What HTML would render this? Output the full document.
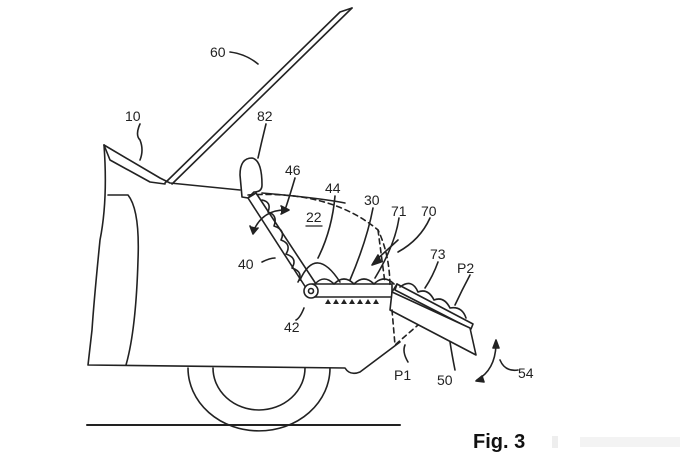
<!DOCTYPE html>
<html><head><style>
body{margin:0;background:#fff;}
svg{display:block;}
text{font-family:"Liberation Sans",sans-serif;font-size:14px;fill:#222;}
</style></head><body>
<svg width="692" height="467" viewBox="0 0 692 467" xmlns="http://www.w3.org/2000/svg">
<g fill="none" stroke="#222" stroke-width="1.6" stroke-linecap="round" stroke-linejoin="round">
<!-- hood -->
<path d="M165 183 L340 12 L352 8"/>
<path d="M172 184 L352 8"/>
<path d="M230 52 Q246 54 258 64"/>
<!-- car body -->
<path d="M104 145 L160 178 L170 183 L240 190"/>
<path d="M104 145 L110 160 L150 182 L165 184"/>
<path d="M104 145 Q108 200 100 240 Q94 300 92 330 L88 365 L345 368 Q350 376 360 372 L400 342"/>
<path d="M108 195 L128 195 Q140 210 138 260 Q136 330 126 365"/>
<path d="M262 193 Q320 198 345 203"/>
<!-- wheel -->
<path d="M188 368 A70 62 0 0 0 330 368"/>
<path d="M213 368 A46 42 0 0 0 305 368"/>
<path d="M87 425 L400 425" stroke-width="2"/>
<!-- headrest -->
<path d="M242 197 L240 175 Q240 158 252 158 Q262 160 262 185 Q262 192 254 192 L248 198 Z" fill="#fff"/>
<!-- seat back -->
<path d="M248 198 L256 193 L318 287 L308 291 Z" fill="#fff"/>
<!-- bumps on back -->
<path d="M262 200 Q272 202 268 212 Q278 215 274 226 Q286 230 281 240 Q292 244 286 254 Q298 258 292 268 Q304 272 298 282"/>
<!-- seat cushion big bump -->
<path d="M300 280 Q316 245 340 282"/>
<!-- seat bar -->
<rect x="312" y="284" width="80" height="13" fill="#fff"/>
<path d="M315 284 Q324 274 334 284 Q344 274 354 284 Q364 274 374 284 Q384 274 394 284"/>
<circle cx="311" cy="291" r="7" fill="#fff"/>
<circle cx="311" cy="291" r="2.5"/>
<!-- feet -->
<g fill="#222" stroke="none">
<polygon points="325,304 328,299 331,304"/><polygon points="333,304 336,299 339,304"/><polygon points="341,304 344,299 347,304"/><polygon points="349,304 352,299 355,304"/><polygon points="357,304 360,299 363,304"/><polygon points="365,304 368,299 371,304"/><polygon points="373,304 376,299 379,304"/>
</g>
<!-- flap 50 -->
<path d="M397 284 L473 324 L471 329 L395 290 Z" fill="#fff"/>
<path d="M392 292 L470 328 L476 355 L390 310 Z" fill="#fff"/>
<path d="M397 284 L392 292"/>
<path d="M400 287 Q412 278 418 292 Q428 288 434 300 Q444 296 450 308 Q462 306 466 318"/>
<!-- dashed -->
<g stroke-dasharray="5,4">
<path d="M248 195 Q330 190 378 230 Q390 255 390 288"/>
<path d="M378 230 L385 283"/>
<path d="M392 310 L395 345 L418 325"/>
</g>
<!-- arrows -->
<path d="M253 232 Q262 210 285 210"/>
<path d="M281 206 L289 210 L281 214" fill="#222"/>
<path d="M250 226 L253 234 L258 228" fill="#222"/>
<path d="M374 262 L398 240"/>
<path d="M372 265 L378 255 L381 262 Z" fill="#222"/>
<path d="M477 380 Q495 370 496 345"/>
<path d="M493 348 L496 340 L499 348 Z" fill="#222"/>
<path d="M482 376 L476 381 L484 382 Z" fill="#222"/>
<!-- leaders -->
<path d="M140 124 Q135 135 140 140 Q144 150 140 160"/>
<path d="M266 124 Q262 140 258 158"/>
<path d="M295 178 Q290 195 285 210"/>
<path d="M335 196 Q332 230 318 258"/>
<path d="M373 208 Q367 240 350 280"/>
<path d="M399 218 Q395 245 375 278"/>
<path d="M430 218 Q420 240 398 252"/>
<path d="M262 262 Q270 258 275 258"/>
<path d="M304 308 Q300 318 296 320"/>
<path d="M438 262 Q433 276 425 288"/>
<path d="M470 275 Q462 290 455 305"/>
<path d="M408 362 Q402 352 405 345"/>
<path d="M455 370 Q452 355 450 342"/>
<path d="M518 370 Q505 372 500 360"/>
<path d="M306 226 L322 226" stroke-width="1.3"/>
</g>
<text x="210" y="57">60</text>
<text x="125" y="121">10</text>
<text x="257" y="121">82</text>
<text x="285" y="175">46</text>
<text x="325" y="193">44</text>
<text x="364" y="205">30</text>
<text x="391" y="216">71</text>
<text x="421" y="216">70</text>
<text x="306" y="222">22</text>
<text x="238" y="269">40</text>
<text x="284" y="332">42</text>
<text x="430" y="259">73</text>
<text x="457" y="273">P2</text>
<text x="394" y="380">P1</text>
<text x="437" y="385">50</text>
<text x="518" y="378">54</text>
<text x="473" y="448" style="font-size:20px;font-weight:bold;fill:#111">Fig. 3</text>
<rect x="552" y="436" width="6" height="12" fill="#eee"/>
<rect x="580" y="437" width="100" height="10" fill="#f3f3f3"/>
</svg>
</body></html>
